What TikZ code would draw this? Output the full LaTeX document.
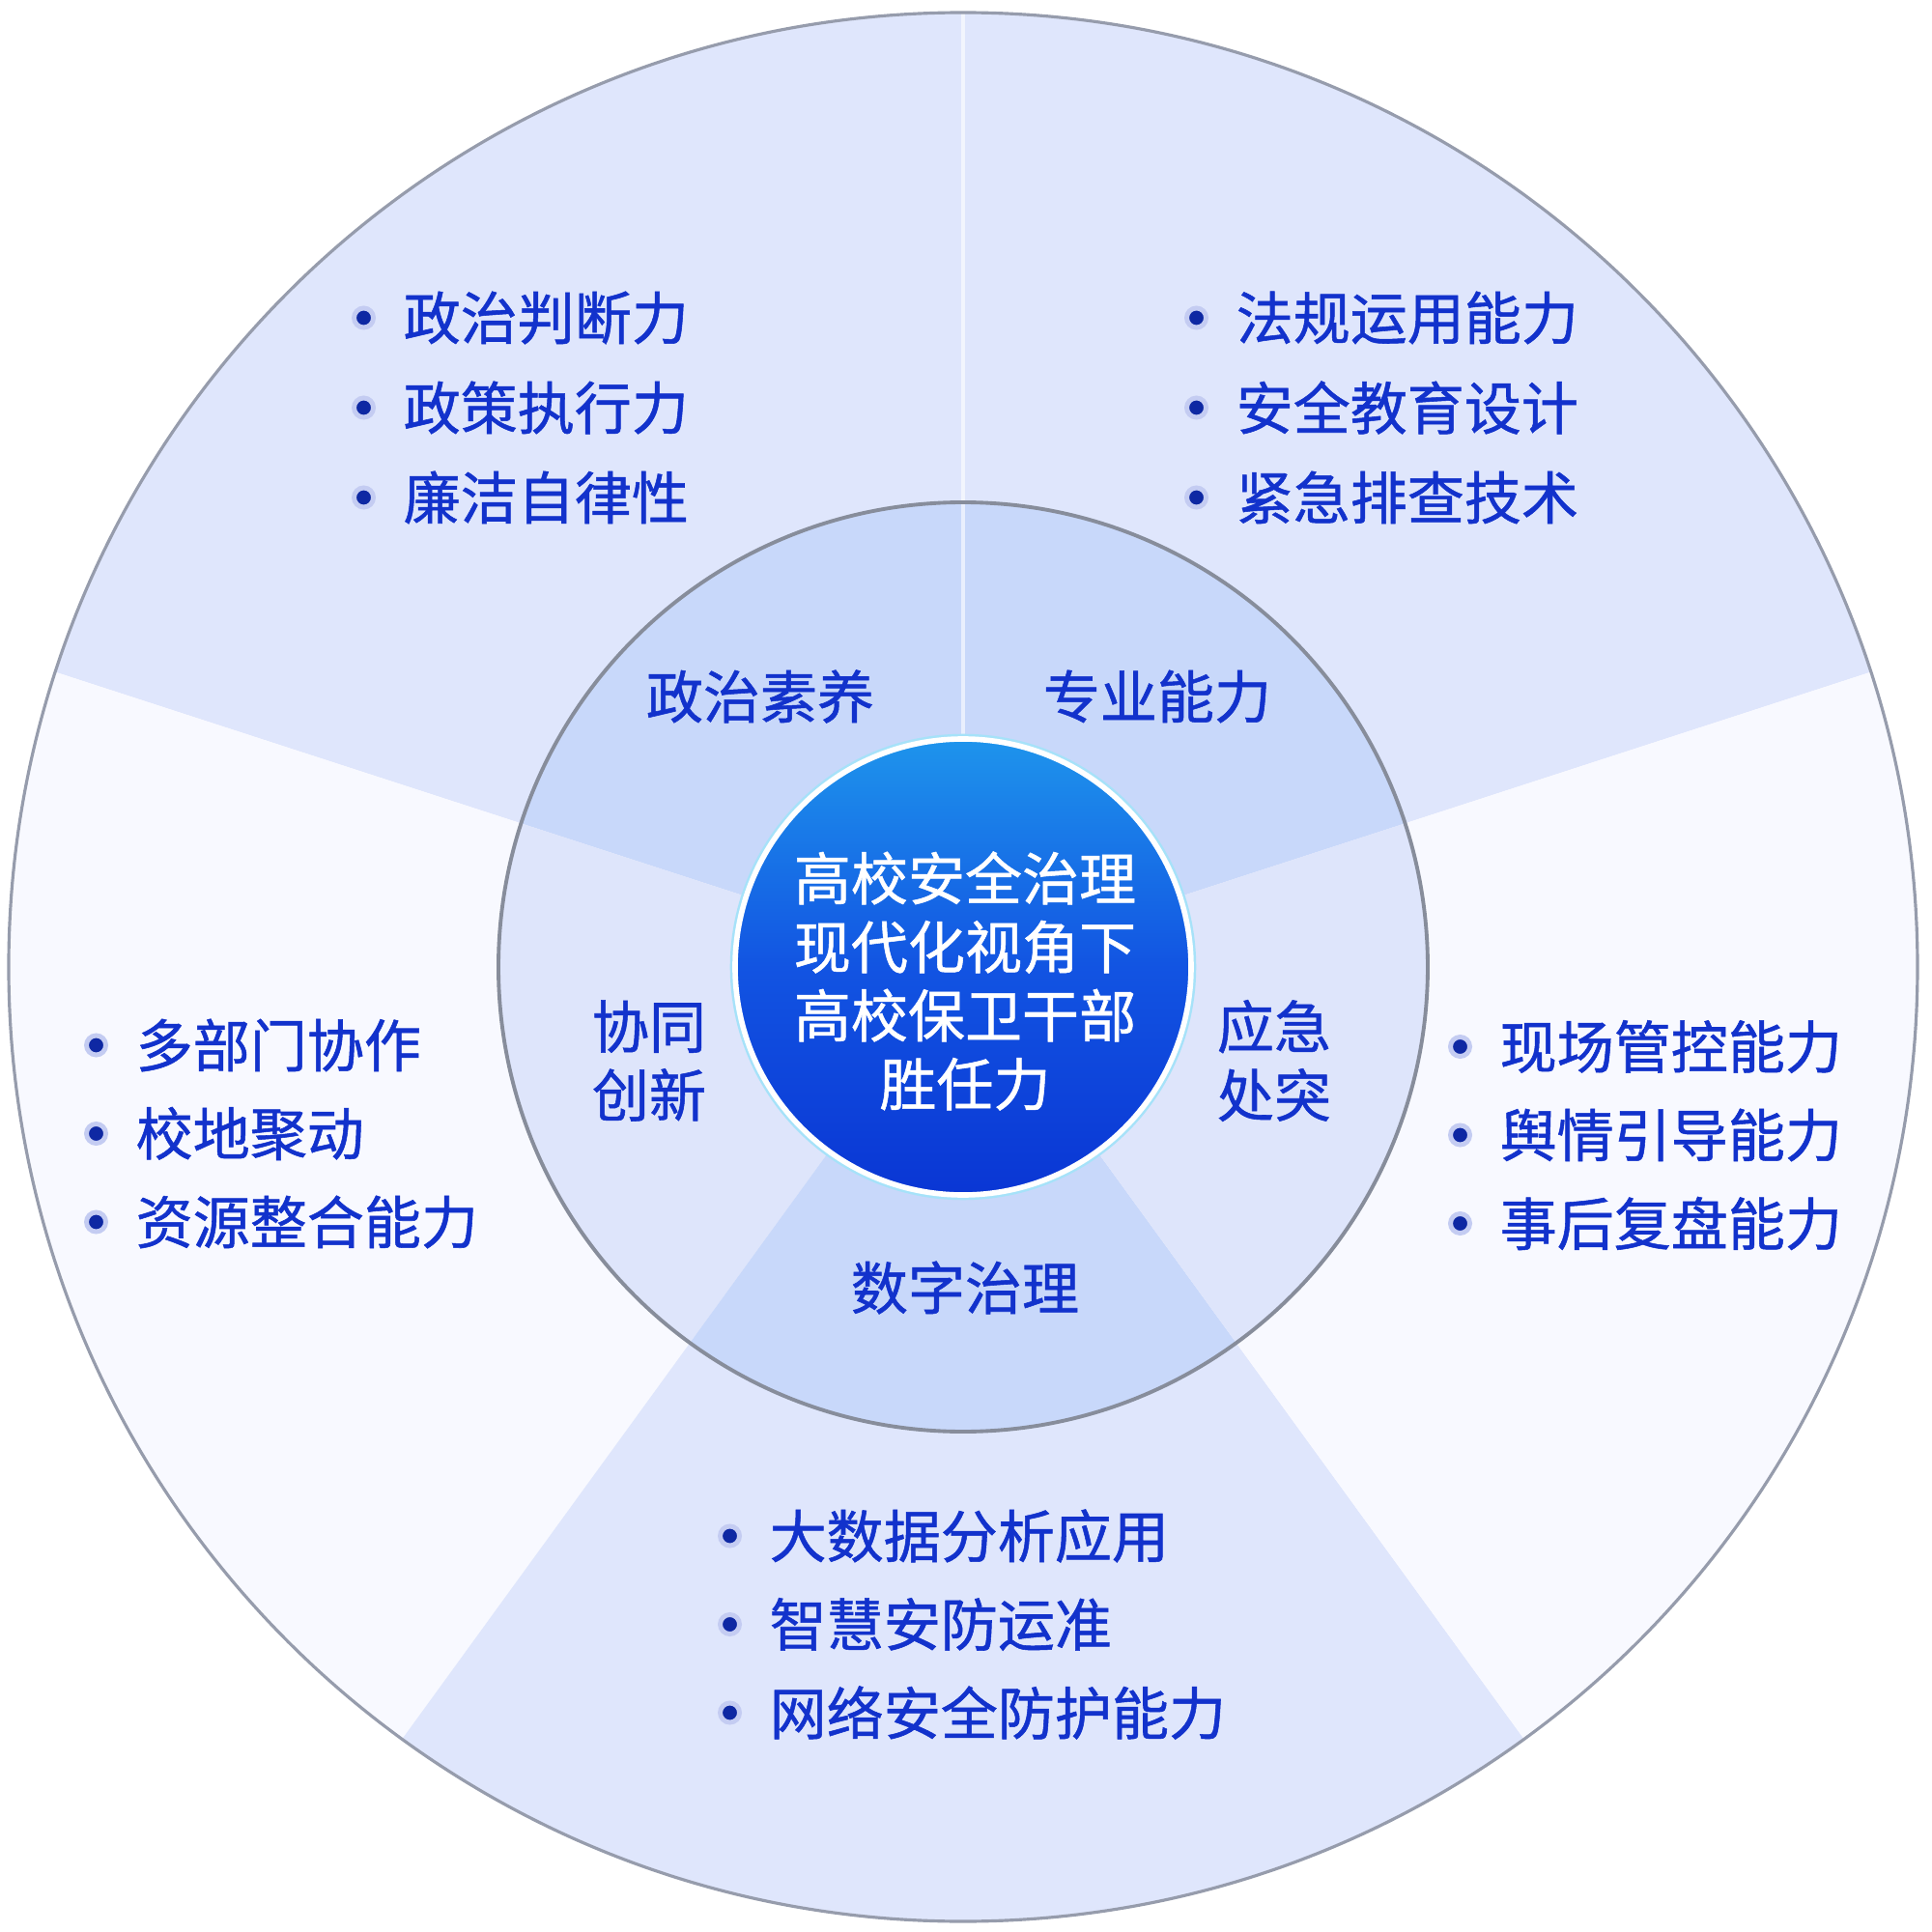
\documentclass[tikz,border=0pt]{standalone}
\usepackage{fontspec}
\setmainfont{Noto Sans CJK SC}[FakeBold=0.9]
\usepackage{tikz}
\usetikzlibrary{positioning}
\definecolor{secblue}{RGB}{223,230,252}
\definecolor{secwhite}{RGB}{248,249,255}
\definecolor{ringblue}{RGB}{200,216,250}
\definecolor{ringlight}{RGB}{222,229,251}
\definecolor{txtblue}{RGB}{18,50,204}
\definecolor{rimgray}{RGB}{150,156,172}
\definecolor{hubtop}{RGB}{30,148,236}
\definecolor{hubmid}{RGB}{18,84,226}
\definecolor{hubbot}{RGB}{10,54,212}
\tikzset{
  item/.style={anchor=west, inner sep=0pt, text=txtblue, font=\fontsize{16.8pt}{20.2pt}\selectfont},
  dot/.style={circle, fill=txtblue!80!black, draw=txtblue!25, line width=1.4pt, inner sep=0pt, minimum size=2mm},
  aspect/.style={inner sep=0pt, align=center, text=txtblue, font=\fontsize{16.8pt}{20.2pt}\selectfont},
  hub/.style={circle, minimum size=4.72cm, draw=white, line width=1.6pt, top color=hubtop, bottom color=hubbot, middle color=hubmid},
}

\begin{document}
\begin{tikzpicture}[node distance=2.8mm]
  \useasboundingbox (-9.97,-9.99) rectangle (10.03,10.01);

  % outer sectors and ring sectors
  \foreach \a/\c in {18/secblue, 90/secblue, 162/secwhite, 234/secblue, 306/secwhite}
    \fill[\c] (0,0) -- (\a:9.88) arc[start angle=\a, end angle=\a+72, radius=9.88] -- cycle;
  \foreach \a/\c in {18/ringblue, 90/ringblue, 162/ringlight, 234/ringblue, 306/ringlight}
    \fill[\c] (0,0) -- (\a:4.81) arc[start angle=\a, end angle=\a+72, radius=4.81] -- cycle;
  \draw[white, line width=1pt, opacity=.6] (0,2.36) -- (90:9.88);

  \draw[rimgray, line width=0.9pt] (0,0) circle (9.88);
  \draw[rimgray!90!black, line width=1.1pt] (0,0) circle (4.81);
  \draw[cyan!35, line width=3pt] (0,0) circle (2.36);

  \node[hub] (hub) at (0,0) {};
  \node[aspect, text=white] (hubtext) at (0.02,-0.145) {高校安全治理\\现代化视角下\\高校保卫干部\\胜任力};

  % ring labels
  \node[aspect] (zzsy) at (-2.10,2.80) {政治素养};
  \node[aspect] (zynl) at (2.01,2.80) {专业能力};
  \node[aspect] (xtcx) at (-3.25,-0.97) {协同\\创新};
  \node[aspect] (yjct) at (3.22,-0.97) {应急\\处突};
  \node[aspect] (szzl) at (0.02,-3.32) {数字治理};

  % item lists
  \foreach \t [count=\i] in {政治判断力, 政策执行力, 廉洁自律性} {
    \node[item] (pol\i) at (-5.80,7.65-\i*0.93) {\t};
    \node[dot, left=of pol\i] (polb\i) {};
  }
  \foreach \t [count=\i] in {法规运用能力, 安全教育设计, 紧急排查技术} {
    \node[item] (pro\i) at (2.82,7.65-\i*0.93) {\t};
    \node[dot, left=of pro\i] (prob\i) {};
  }
  \foreach \t [count=\i] in {多部门协作, 校地聚动, 资源整合能力} {
    \node[item] (col\i) at (-8.57,0.105-\i*0.915) {\t};
    \node[dot, left=of col\i] (colb\i) {};
  }
  \foreach \t [count=\i] in {现场管控能力, 舆情引导能力, 事后复盘能力} {
    \node[item] (eme\i) at (5.55,0.09-\i*0.915) {\t};
    \node[dot, left=of eme\i] (emeb\i) {};
  }
  \foreach \t [count=\i] in {大数据分析应用, 智慧安防运准, 网络安全防护能力} {
    \node[item] (dig\i) at (-2.01,-4.975-\i*0.915) {\t};
    \node[dot, left=of dig\i] (digb\i) {};
  }
\end{tikzpicture}
\end{document}
